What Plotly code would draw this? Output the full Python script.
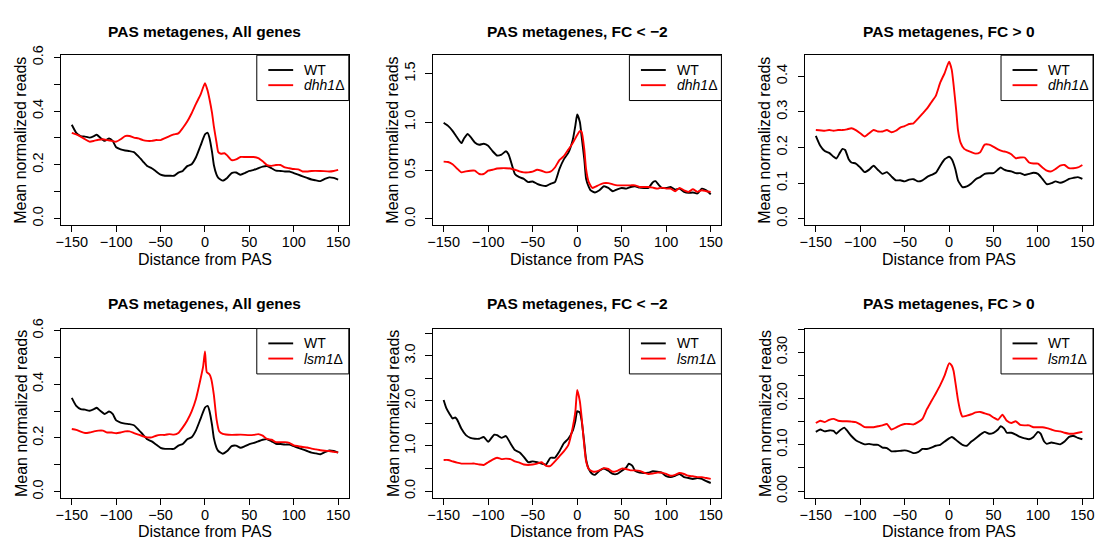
import plotly.graph_objects as go

# ---------------- data: mean normalized reads around the PAS ----------------
# All genes, WT (shared by the dhh1 and lsm1 comparisons)
all_wt_x = [-150, -145, -140, -135, -130, -125, -122, -118, -113, -108, -104,
            -100, -95, -90, -85, -80, -75, -70, -65, -60, -55, -50, -45, -40,
            -35, -30, -25, -20, -15, -10, -5, 0, 3, 5, 8, 10, 13, 15, 20, 25,
            30, 35, 40, 45, 50, 55, 60, 65, 70, 75, 80, 85, 90, 95, 100, 105,
            110, 115, 120, 125, 130, 135, 140, 145, 150]
all_wt_y = [0.349, 0.319, 0.307, 0.305, 0.301, 0.307, 0.312, 0.301, 0.289, 0.298, 0.289,
            0.265, 0.257, 0.253, 0.251, 0.247, 0.231, 0.213, 0.195, 0.187, 0.175, 0.163,
            0.159, 0.159, 0.159, 0.171, 0.177, 0.195, 0.202, 0.229, 0.271, 0.313,
            0.319, 0.301, 0.247, 0.199, 0.163, 0.151, 0.141, 0.151, 0.169, 0.171,
            0.163, 0.169, 0.177, 0.181, 0.187, 0.193, 0.195, 0.187, 0.178, 0.177,
            0.175, 0.175, 0.169, 0.163, 0.157, 0.151, 0.145, 0.142, 0.139, 0.147,
            0.153, 0.151, 0.145]

# All genes, dhh1 deletion
all_dhh1_x = [-150, -145, -140, -135, -130, -125, -120, -115, -110, -105, -100,
              -95, -90, -85, -80, -75, -70, -65, -60, -55, -50, -45, -40, -35,
              -30, -25, -20, -15, -10, -5, 0, 3, 5, 8, 10, 13, 15, 18, 22, 25,
              30, 35, 40, 45, 50, 55, 60, 65, 70, 75, 80, 85, 90, 95, 100, 105,
              110, 115, 120, 130, 140, 145, 150]
all_dhh1_y = [0.319, 0.313, 0.305, 0.295, 0.286, 0.289, 0.293, 0.295, 0.292, 0.289, 0.286,
              0.295, 0.307, 0.307, 0.301, 0.298, 0.292, 0.289, 0.289, 0.292, 0.292,
              0.299, 0.307, 0.313, 0.317, 0.337, 0.361, 0.392, 0.428, 0.461, 0.504,
              0.476, 0.446, 0.392, 0.343, 0.283, 0.247, 0.241, 0.243, 0.235,
              0.217, 0.220, 0.229, 0.229, 0.229, 0.229, 0.225, 0.213, 0.199, 0.196,
              0.199, 0.199, 0.190, 0.187, 0.184, 0.183, 0.175, 0.175, 0.177,
              0.177, 0.175, 0.177, 0.181]

# All genes, lsm1 deletion
all_lsm1_x = [-150, -145, -140, -135, -130, -125, -120, -115, -110, -105, -100,
              -95, -90, -85, -80, -75, -70, -65, -60, -55, -50, -45, -40, -35,
              -30, -25, -20, -15, -10, -5, -2, 0, 2, 5, 7, 10, 13, 16, 20, 30,
              40, 50, 55, 60, 65, 70, 75, 80, 85, 90, 95, 100, 105, 110, 115,
              120, 125, 130, 135, 140, 145, 150]
all_lsm1_y = [0.233, 0.230, 0.223, 0.218, 0.220, 0.224, 0.227, 0.227, 0.220, 0.220, 0.217,
              0.220, 0.224, 0.224, 0.218, 0.212, 0.206, 0.202, 0.202, 0.208, 0.211,
              0.211, 0.214, 0.212, 0.218, 0.239, 0.265, 0.299, 0.347, 0.419, 0.467,
              0.522, 0.445, 0.437, 0.420, 0.360, 0.270, 0.225, 0.215, 0.211,
              0.212, 0.210, 0.211, 0.214, 0.208, 0.196, 0.193, 0.184, 0.184, 0.184,
              0.181, 0.172, 0.169, 0.166, 0.164, 0.160, 0.157, 0.154, 0.152, 0.151,
              0.148, 0.146]

# FC < -2 genes, WT and dhh1 deletion
fcneg_dhh1_wt_x = [-150, -145, -140, -135, -130, -127, -123, -120, -115, -110, -105,
                   -100, -95, -90, -85, -80, -77, -73, -70, -65, -60, -55, -50, -45,
                   -40, -35, -30, -25, -20, -15, -10, -5, -2, 0, 3, 5, 8, 10, 13, 15,
                   20, 25, 30, 35, 40, 45, 50, 55, 60, 65, 70, 75, 80, 85, 88, 92,
                   95, 100, 105, 110, 115, 120, 125, 130, 135, 140, 145, 150]
fcneg_dhh1_wt_y = [0.993, 0.960, 0.909, 0.842, 0.782, 0.832, 0.876, 0.849, 0.789, 0.765, 0.775,
                   0.755, 0.698, 0.654, 0.664, 0.698, 0.664, 0.547, 0.463, 0.430, 0.413,
                   0.379, 0.386, 0.362, 0.346, 0.339, 0.362, 0.379, 0.513, 0.614, 0.681,
                   0.815, 0.966, 1.077, 1.000, 0.849, 0.614, 0.413, 0.329, 0.295,
                   0.272, 0.295, 0.336, 0.319, 0.285, 0.305, 0.319, 0.312, 0.329, 0.336,
                   0.322, 0.319, 0.319, 0.379, 0.389, 0.346, 0.319, 0.319, 0.329, 0.302,
                   0.312, 0.279, 0.268, 0.272, 0.262, 0.312, 0.295, 0.252]

fcneg_dhh1_x = [-150, -145, -140, -135, -130, -125, -120, -115, -110, -105, -100,
                -95, -90, -85, -80, -75, -70, -65, -60, -55, -50, -45, -40, -35,
                -30, -25, -20, -15, -10, -5, 0, 3, 5, 8, 10, 13, 17, 20, 25, 30,
                35, 40, 45, 50, 55, 60, 65, 70, 75, 80, 85, 90, 95, 100, 105, 110,
                115, 120, 125, 130, 135, 140, 145, 150]
fcneg_dhh1_y = [0.591, 0.587, 0.564, 0.520, 0.480, 0.490, 0.497, 0.497, 0.463, 0.463, 0.497,
                0.507, 0.520, 0.523, 0.523, 0.520, 0.507, 0.490, 0.480, 0.480, 0.487,
                0.507, 0.497, 0.480, 0.487, 0.530, 0.607, 0.648, 0.715, 0.782, 0.866,
                0.906, 0.899, 0.715, 0.513, 0.379, 0.319, 0.329, 0.352, 0.369,
                0.369, 0.356, 0.346, 0.346, 0.346, 0.346, 0.346, 0.329, 0.329, 0.329,
                0.322, 0.312, 0.322, 0.312, 0.312, 0.285, 0.319, 0.295, 0.279, 0.305,
                0.279, 0.295, 0.285, 0.279]

# FC > 0 genes, WT and dhh1 deletion
fcpos_dhh1_wt_x = [-150, -145, -140, -135, -130, -127, -123, -120, -117, -113, -110,
                   -105, -100, -95, -90, -85, -80, -75, -70, -65, -60, -55, -50, -45,
                   -40, -35, -30, -25, -20, -15, -10, -5, 0, 3, 7, 10, 15, 20, 25, 30,
                   35, 40, 45, 50, 55, 58, 62, 65, 70, 75, 80, 85, 90, 95, 100, 105,
                   110, 115, 120, 125, 130, 135, 140, 145, 150]
fcpos_dhh1_wt_y = [0.233, 0.205, 0.190, 0.185, 0.174, 0.169, 0.185, 0.196, 0.193, 0.167, 0.158,
                   0.155, 0.144, 0.131, 0.138, 0.149, 0.137, 0.126, 0.131, 0.119, 0.108,
                   0.108, 0.105, 0.110, 0.111, 0.105, 0.108, 0.117, 0.123, 0.129, 0.149,
                   0.167, 0.174, 0.167, 0.140, 0.108, 0.089, 0.091, 0.099, 0.111, 0.117,
                   0.126, 0.128, 0.128, 0.138, 0.144, 0.138, 0.135, 0.133, 0.128, 0.128,
                   0.123, 0.126, 0.129, 0.126, 0.112, 0.097, 0.100, 0.105, 0.101, 0.105,
                   0.112, 0.115, 0.117, 0.112]

fcpos_dhh1_x = [-150, -140, -135, -130, -125, -120, -115, -110, -105, -100, -95,
                -90, -85, -80, -75, -70, -65, -60, -55, -50, -45, -40, -35, -30,
                -25, -20, -15, -10, -5, 0, 3, 5, 8, 10, 13, 17, 20, 25, 30, 35,
                40, 45, 50, 55, 60, 65, 70, 75, 80, 85, 90, 95, 100, 105, 110, 115,
                120, 125, 130, 135, 140, 145, 150]
fcpos_dhh1_y = [0.249, 0.247, 0.249, 0.247, 0.249, 0.249, 0.251, 0.254, 0.249, 0.240, 0.231,
                0.240, 0.249, 0.245, 0.245, 0.249, 0.243, 0.247, 0.256, 0.260, 0.266,
                0.268, 0.281, 0.295, 0.309, 0.327, 0.345, 0.382, 0.409, 0.441, 0.418,
                0.377, 0.304, 0.249, 0.213, 0.196, 0.192, 0.187, 0.183, 0.187, 0.208,
                0.208, 0.202, 0.195, 0.190, 0.187, 0.181, 0.170, 0.172, 0.172, 0.158,
                0.155, 0.155, 0.144, 0.135, 0.133, 0.140, 0.149, 0.151, 0.142, 0.142,
                0.144, 0.151]

# FC < -2 genes, WT and lsm1 deletion
fcneg_lsm1_wt_x = [-150, -147, -143, -140, -137, -135, -130, -125, -120, -115, -110,
                   -105, -100, -97, -93, -90, -85, -80, -75, -70, -65, -60, -55, -50,
                   -45, -40, -35, -30, -25, -20, -15, -10, -5, -2, 0, 3, 5, 8, 10, 13,
                   17, 20, 25, 30, 35, 40, 45, 50, 55, 58, 62, 65, 70, 75, 80, 85, 90,
                   95, 100, 105, 110, 115, 120, 125, 130, 135, 140, 145, 150]
fcneg_lsm1_wt_y = [2.02, 1.84, 1.70, 1.61, 1.63, 1.59, 1.38, 1.24, 1.18, 1.16, 1.16,
                   1.20, 1.09, 1.16, 1.25, 1.24, 1.18, 1.22, 1.06, 0.91, 0.86, 0.76, 0.64,
                   0.66, 0.64, 0.61, 0.59, 0.74, 0.74, 0.88, 1.06, 1.16, 1.34, 1.56, 1.77,
                   1.74, 1.56, 1.06, 0.70, 0.49, 0.38, 0.36, 0.45, 0.50, 0.45, 0.38, 0.38,
                   0.45, 0.52, 0.61, 0.56, 0.45, 0.41, 0.40, 0.41, 0.44, 0.43, 0.41, 0.33,
                   0.31, 0.34, 0.38, 0.31, 0.29, 0.27, 0.29, 0.27, 0.22, 0.18]

fcneg_lsm1_x = [-150, -145, -140, -135, -130, -125, -120, -115, -110, -105, -100,
                -95, -90, -85, -80, -75, -70, -65, -60, -55, -50, -45, -40, -35,
                -30, -25, -20, -15, -10, -5, -2, 0, 3, 5, 8, 10, 13, 17, 20, 25, 30,
                35, 40, 45, 50, 55, 60, 65, 70, 75, 80, 85, 90, 95, 100, 105, 110,
                115, 120, 125, 130, 135, 140, 145, 150]
fcneg_lsm1_y = [0.69, 0.69, 0.66, 0.63, 0.61, 0.61, 0.61, 0.61, 0.59, 0.58, 0.64,
                0.70, 0.74, 0.71, 0.72, 0.71, 0.66, 0.63, 0.59, 0.58, 0.59, 0.61, 0.64,
                0.56, 0.56, 0.66, 0.77, 0.88, 1.02, 1.41, 1.77, 2.24, 1.99, 1.63, 0.99,
                0.66, 0.49, 0.44, 0.43, 0.46, 0.51, 0.49, 0.43, 0.45, 0.50, 0.49, 0.46,
                0.46, 0.45, 0.41, 0.38, 0.39, 0.41, 0.41, 0.38, 0.34, 0.36, 0.40, 0.38,
                0.34, 0.33, 0.31, 0.31, 0.29, 0.27]

# FC > 0 genes, WT and lsm1 deletion
fcpos_lsm1_wt_x = [-150, -145, -140, -135, -130, -127, -123, -118, -115, -110, -105,
                   -100, -95, -90, -85, -80, -75, -70, -65, -60, -55, -50, -45, -40,
                   -35, -30, -25, -20, -15, -10, -5, 0, 3, 5, 10, 15, 20, 25, 30, 35,
                   40, 45, 50, 55, 58, 62, 65, 70, 75, 80, 85, 90, 95, 100, 103, 107,
                   110, 115, 120, 125, 130, 135, 140, 145, 150]
fcpos_lsm1_wt_y = [0.128, 0.133, 0.129, 0.131, 0.130, 0.124, 0.131, 0.137, 0.131, 0.119, 0.110,
                   0.105, 0.101, 0.102, 0.100, 0.100, 0.094, 0.093, 0.086, 0.086, 0.087,
                   0.088, 0.086, 0.082, 0.084, 0.091, 0.091, 0.094, 0.098, 0.100, 0.107,
                   0.114, 0.117, 0.115, 0.107, 0.100, 0.098, 0.107, 0.114, 0.122, 0.128,
                   0.124, 0.126, 0.133, 0.140, 0.135, 0.126, 0.126, 0.122, 0.117, 0.114,
                   0.112, 0.117, 0.128, 0.124, 0.107, 0.102, 0.105, 0.103, 0.101, 0.107,
                   0.117, 0.119, 0.115, 0.112]

fcpos_lsm1_x = [-150, -145, -140, -135, -130, -125, -120, -115, -110, -105, -100,
                -95, -90, -85, -80, -75, -70, -65, -60, -55, -50, -45, -40, -35,
                -30, -25, -20, -15, -10, -5, 0, 3, 5, 7, 10, 13, 15, 20, 25, 30,
                35, 40, 45, 50, 55, 60, 65, 70, 75, 80, 85, 90, 95, 100, 105, 110,
                115, 120, 125, 130, 135, 140, 145, 150]
fcpos_lsm1_y = [0.147, 0.152, 0.149, 0.154, 0.156, 0.152, 0.151, 0.151, 0.150, 0.149, 0.144,
                0.138, 0.138, 0.138, 0.140, 0.142, 0.145, 0.133, 0.137, 0.142, 0.145,
                0.145, 0.144, 0.149, 0.156, 0.177, 0.194, 0.211, 0.229, 0.250, 0.276,
                0.271, 0.260, 0.236, 0.197, 0.170, 0.161, 0.163, 0.166, 0.170, 0.171,
                0.168, 0.165, 0.159, 0.154, 0.165, 0.152, 0.147, 0.151, 0.143, 0.142,
                0.142, 0.138, 0.138, 0.138, 0.136, 0.133, 0.130, 0.129, 0.126, 0.124,
                0.124, 0.126, 0.128]

# ---------------- panel definitions ----------------
titles = ["PAS metagenes, All genes", "PAS metagenes, FC < \u22122", "PAS metagenes, FC > 0",
          "PAS metagenes, All genes", "PAS metagenes, FC < \u22122", "PAS metagenes, FC > 0"]
mutant_names = ["<i>dhh1</i>\u0394", "<i>lsm1</i>\u0394"]

x_ticks = [-150, -100, -50, 0, 50, 100, 150]
x_ticktext = ["\u2212150", "\u2212100", "\u221250", "0", "50", "100", "150"]

y_tickvals = [
    [0, 0.1, 0.2, 0.3, 0.4, 0.5, 0.6],
    [0, 0.5, 1.0, 1.5],
    [0, 0.1, 0.2, 0.3, 0.4],
    [0, 0.1, 0.2, 0.3, 0.4, 0.5, 0.6],
    [0, 0.5, 1.0, 1.5, 2.0, 2.5, 3.0, 3.5],
    [0, 0.05, 0.10, 0.15, 0.20, 0.25, 0.30, 0.35],
]
y_ticktext = [
    ["0.0", "", "0.2", "", "0.4", "", "0.6"],
    ["0.0", "0.5", "1.0", "1.5"],
    ["0.0", "0.1", "0.2", "0.3", "0.4"],
    ["0.0", "", "0.2", "", "0.4", "", "0.6"],
    ["0.0", "", "1.0", "", "2.0", "", "3.0", ""],
    ["0.00", "", "0.10", "", "0.20", "", "0.30", ""],
]
y_ranges = [[-0.023, 0.608], [-0.060, 1.690], [-0.0164, 0.459],
            [-0.023, 0.607], [-0.146, 3.600], [-0.0143, 0.351]]
x_range = [-162, 162]

panels = [
    (all_wt_x, all_wt_y, all_dhh1_x, all_dhh1_y),
    (fcneg_dhh1_wt_x, fcneg_dhh1_wt_y, fcneg_dhh1_x, fcneg_dhh1_y),
    (fcpos_dhh1_wt_x, fcpos_dhh1_wt_y, fcpos_dhh1_x, fcpos_dhh1_y),
    (all_wt_x, all_wt_y, all_lsm1_x, all_lsm1_y),
    (fcneg_lsm1_wt_x, fcneg_lsm1_wt_y, fcneg_lsm1_x, fcneg_lsm1_y),
    (fcpos_lsm1_wt_x, fcpos_lsm1_wt_y, fcpos_lsm1_x, fcpos_lsm1_y),
]

# ---------------- page geometry (pixels) ----------------
W, H = 1098, 546
col_px = [(55.5, 345.0), (429.7, 720.0), (804.3, 1094.0)]
row_px = [(46.5, 220.7), (327.6, 501.5)]
title_y_px = [21.7, 301.7]
xlab_y_px = [256.7, 536.3]

FONT = "Liberation Sans, Arial, Helvetica, sans-serif"
FS_TICK = 14.5
FS_LAB = 16
FS_MAIN = 15.5
FS_LEG = 14
LW = 1.9
COLORS = ["black", "#ff0000"]

fig = go.Figure()
layout = dict(
    width=W, height=H, autosize=False, showlegend=False,
    margin=dict(l=0, r=0, t=0, b=0),
    paper_bgcolor="white", plot_bgcolor="white",
    font=dict(family=FONT, size=FS_TICK, color="black"),
    annotations=[], shapes=[],
)


def px_x(v):
    return v / W


def px_y(v):
    return 1 - v / H


for i, (wx, wy, mx, my) in enumerate(panels):
    r, c = divmod(i, 3)
    n = i + 1
    xa = "x" if n == 1 else f"x{n}"
    ya = "y" if n == 1 else f"y{n}"
    x0, x1 = col_px[c]
    top, bot = row_px[r]
    names = ["WT", mutant_names[r]]

    for k, (sx, sy) in enumerate([(wx, wy), (mx, my)]):
        fig.add_trace(go.Scatter(x=sx, y=sy, mode="lines", name=names[k],
                                 line=dict(color=COLORS[k], width=LW,
                                           shape="spline", smoothing=0.5),
                                 xaxis=xa, yaxis=ya, hoverinfo="x+y+name"))

    axis_common = dict(showline=True, mirror=True, linecolor="black", linewidth=1,
                       ticks="outside", ticklen=6.5, tickwidth=1, tickcolor="black",
                       showgrid=False, zeroline=False, fixedrange=True,
                       tickfont=dict(family=FONT, size=FS_TICK, color="black"))
    layout["xaxis" if n == 1 else f"xaxis{n}"] = dict(
        domain=[px_x(x0), px_x(x1)], anchor=ya, range=x_range,
        tickmode="array", tickvals=x_ticks, ticktext=x_ticktext,
        ticklabelstandoff=-3, **axis_common)
    layout["yaxis" if n == 1 else f"yaxis{n}"] = dict(
        domain=[px_y(bot), px_y(top)], anchor=xa, range=y_ranges[i],
        tickmode="array", tickvals=y_tickvals[i], ticktext=y_ticktext[i],
        tickangle=-90, ticklabelstandoff=5, **axis_common)

    # boxed legend in the top-right corner of the panel
    lx0, lx1 = x1 - 92.6, x1
    ly0, ly1 = top, top + 46.6
    layout["shapes"].append(dict(
        type="rect", xref="paper", yref="paper", layer="above",
        x0=px_x(lx0), x1=px_x(lx1), y0=px_y(ly1), y1=px_y(ly0),
        fillcolor="white", line=dict(color="black", width=1)))
    for k, name in enumerate(names):
        yy = top + 15.2 + 15.6 * k
        layout["shapes"].append(dict(
            type="line", xref="paper", yref="paper", layer="above",
            x0=px_x(x1 - 81), x1=px_x(x1 - 56), y0=px_y(yy), y1=px_y(yy),
            line=dict(color=COLORS[k], width=LW)))
        layout["annotations"].append(dict(
            text=name, x=px_x(x1 - 47), y=px_y(yy), xref="paper", yref="paper",
            xanchor="left", yanchor="middle", showarrow=False,
            font=dict(family=FONT, size=FS_LEG, color="black")))

    cx = (x0 + x1) / 2
    cy = (top + bot) / 2
    layout["annotations"] += [
        dict(text=f"<b>{titles[i]}</b>", x=px_x(cx), y=px_y(title_y_px[r]),
             xref="paper", yref="paper", xanchor="center", yanchor="middle",
             showarrow=False, font=dict(family=FONT, size=FS_MAIN, color="black")),
        dict(text="Distance from PAS", x=px_x(cx), y=px_y(xlab_y_px[r]),
             xref="paper", yref="paper", xanchor="center", yanchor="middle",
             showarrow=False, font=dict(family=FONT, size=FS_LAB, color="black")),
        dict(text="Mean normalized reads", x=px_x(x0 - 40.5), y=px_y(cy),
             xref="paper", yref="paper", xanchor="center", yanchor="middle",
             textangle=-90, showarrow=False,
             font=dict(family=FONT, size=FS_LAB, color="black")),
    ]

fig.update_layout(**layout)
fig.write_html("out.html")
